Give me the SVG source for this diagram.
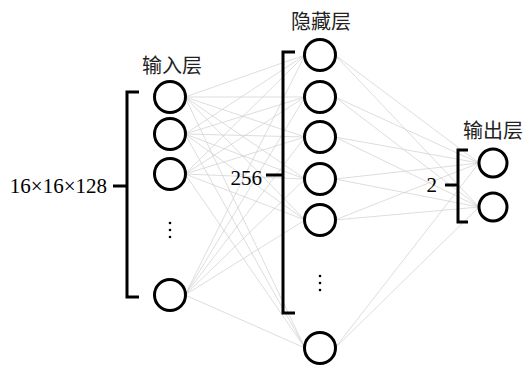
<svg xmlns="http://www.w3.org/2000/svg" width="524" height="365" viewBox="0 0 524 365">
  <style>
    .node { fill: #fff; stroke: #000; stroke-width: 3; }
    .brace { fill: none; stroke: #000; stroke-width: 3; }
    .link { stroke: #cfcfcf; stroke-width: 0.7; fill: none; }
    .title { font-family: "Noto Sans CJK SC", "Noto Sans", sans-serif; font-size: 20px; fill: #222; }
    .num { font-family: "Liberation Serif", serif; font-size: 21px; fill: #000; }
    .dot { fill: #000; }
  </style>
  <rect width="524" height="365" fill="#fff"/>

  <!-- connectors: input -> hidden, hidden -> output -->
  <g id="connectors">
    <g class="link">
      <!-- input circle 1 (185,97) -->
      <line x1="185" y1="97" x2="305" y2="55"/>
      <line x1="185" y1="97" x2="305" y2="97"/>
      <line x1="185" y1="97" x2="305" y2="137"/>
      <line x1="185" y1="97" x2="305" y2="179"/>
      <line x1="185" y1="97" x2="305" y2="220"/>
      <line x1="185" y1="97" x2="305" y2="348"/>
      <!-- input circle 2 (185,134) -->
      <line x1="185" y1="134" x2="305" y2="55"/>
      <line x1="185" y1="134" x2="305" y2="97"/>
      <line x1="185" y1="134" x2="305" y2="137"/>
      <line x1="185" y1="134" x2="305" y2="179"/>
      <line x1="185" y1="134" x2="305" y2="220"/>
      <line x1="185" y1="134" x2="305" y2="348"/>
      <!-- input circle 3 (185,174) -->
      <line x1="185" y1="174" x2="305" y2="55"/>
      <line x1="185" y1="174" x2="305" y2="97"/>
      <line x1="185" y1="174" x2="305" y2="137"/>
      <line x1="185" y1="174" x2="305" y2="179"/>
      <line x1="185" y1="174" x2="305" y2="220"/>
      <line x1="185" y1="174" x2="305" y2="348"/>
      <!-- input circle 4 (185,295) -->
      <line x1="185" y1="295" x2="305" y2="55"/>
      <line x1="185" y1="295" x2="305" y2="97"/>
      <line x1="185" y1="295" x2="305" y2="137"/>
      <line x1="185" y1="295" x2="305" y2="179"/>
      <line x1="185" y1="295" x2="305" y2="220"/>
      <line x1="185" y1="295" x2="305" y2="348"/>
      <!-- hidden -> output -->
      <line x1="335" y1="55" x2="479" y2="163"/>
      <line x1="335" y1="55" x2="479" y2="207"/>
      <line x1="335" y1="97" x2="479" y2="163"/>
      <line x1="335" y1="97" x2="479" y2="207"/>
      <line x1="335" y1="137" x2="479" y2="163"/>
      <line x1="335" y1="137" x2="479" y2="207"/>
      <line x1="335" y1="179" x2="479" y2="163"/>
      <line x1="335" y1="179" x2="479" y2="207"/>
      <line x1="335" y1="220" x2="479" y2="163"/>
      <line x1="335" y1="220" x2="479" y2="207"/>
      <line x1="335" y1="348" x2="479" y2="163"/>
      <line x1="335" y1="348" x2="479" y2="207"/>
    </g>
  </g>

  <!-- input layer -->
  <g id="input-layer">
    <text class="title" x="172" y="73" text-anchor="middle">输入层</text>
    <path class="brace" d="M139,92 H127 V297 H139 M113,186 H127"/>
    <text class="num" x="107" y="193" text-anchor="end">16×16×128</text>
    <g id="in-1"><circle class="node" cx="170" cy="97" r="15.5"/></g>
    <g id="in-2"><circle class="node" cx="170" cy="134" r="15.5"/></g>
    <g id="in-3"><circle class="node" cx="170" cy="174" r="15.5"/></g>
    <g id="in-dots">
      <circle class="dot" cx="170" cy="223" r="1.3"/>
      <circle class="dot" cx="170" cy="230" r="1.3"/>
      <circle class="dot" cx="170" cy="237" r="1.3"/>
    </g>
    <g id="in-n"><circle class="node" cx="170" cy="295" r="15.5"/></g>
  </g>

  <!-- hidden layer -->
  <g id="hidden-layer">
    <text class="title" x="321" y="29" text-anchor="middle">隐藏层</text>
    <path class="brace" d="M295,52 H283 V313 H295 M266,175 H283"/>
    <text class="num" x="262" y="185" text-anchor="end">256</text>
    <g id="h-1"><circle class="node" cx="320" cy="55" r="15.5"/></g>
    <g id="h-2"><circle class="node" cx="320" cy="97" r="15.5"/></g>
    <g id="h-3"><circle class="node" cx="320" cy="137" r="15.5"/></g>
    <g id="h-4"><circle class="node" cx="320" cy="179" r="15.5"/></g>
    <g id="h-5"><circle class="node" cx="320" cy="220" r="15.5"/></g>
    <g id="h-dots">
      <circle class="dot" cx="320" cy="276" r="1.3"/>
      <circle class="dot" cx="320" cy="283" r="1.3"/>
      <circle class="dot" cx="320" cy="290" r="1.3"/>
    </g>
    <g id="h-n"><circle class="node" cx="320" cy="348" r="15.5"/></g>
  </g>

  <!-- output layer -->
  <g id="output-layer">
    <text class="title" x="493" y="138" text-anchor="middle">输出层</text>
    <path class="brace" d="M468,150 H458 V222 H468 M445,185 H458"/>
    <text class="num" x="437" y="192" text-anchor="end">2</text>
    <g id="out-1"><circle class="node" cx="493" cy="163" r="14"/></g>
    <g id="out-2"><circle class="node" cx="493" cy="207" r="14"/></g>
  </g>
</svg>
